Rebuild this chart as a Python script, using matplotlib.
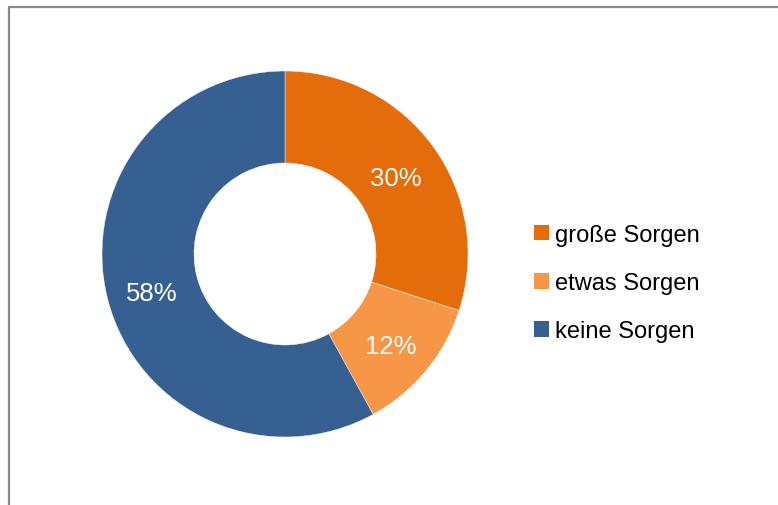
"""Donut chart: Sorgen (große / etwas / keine)."""
import matplotlib
matplotlib.use("Agg")
import matplotlib.pyplot as plt
from matplotlib.patches import Patch

plt.rcParams["font.family"] = ["Liberation Sans", "DejaVu Sans"]

W, H = 778, 506

labels = ["große Sorgen", "etwas Sorgen", "keine Sorgen"]
values = [30, 12, 58]
colors = ["#E46C0A", "#F79646", "#376092"]

fig = plt.figure(figsize=(W / 100, H / 100), dpi=100)
ax = fig.add_axes([0, 0, 1, 1])

# frame (only left/top visible in the crop)
ax.plot([8.5, 8.5, W + 5], [-5, H - 7.5, H - 7.5], color="#888888", lw=1.6,
        solid_capstyle="butt", zorder=1)

wedges, texts, autotexts = ax.pie(
    values, colors=colors, startangle=90, counterclock=False,
    radius=183, center=(285, H - 255), frame=True,
    wedgeprops=dict(width=92, edgecolor="white", linewidth=0.3),
    autopct="%d%%", pctdistance=0.75,
    textprops=dict(color="white", fontsize=18.5),
)
for t in autotexts:
    x, y = t.get_position()
    t.set_position((x, y - 5))

ax.set_xlim(0, W)
ax.set_ylim(0, H)
ax.set_aspect("equal")
ax.axis("off")

handles = [Patch(facecolor=c, edgecolor="none") for c in colors]
fig.legend(handles, labels, loc="center left", bbox_to_anchor=(534 / W, 1 - 284 / H),
           frameon=False, fontsize=17, handlelength=0.64, handleheight=0.64,
           handletextpad=0.25, labelspacing=1.11, borderaxespad=0, borderpad=0)

fig.savefig("out.png", dpi=100)
